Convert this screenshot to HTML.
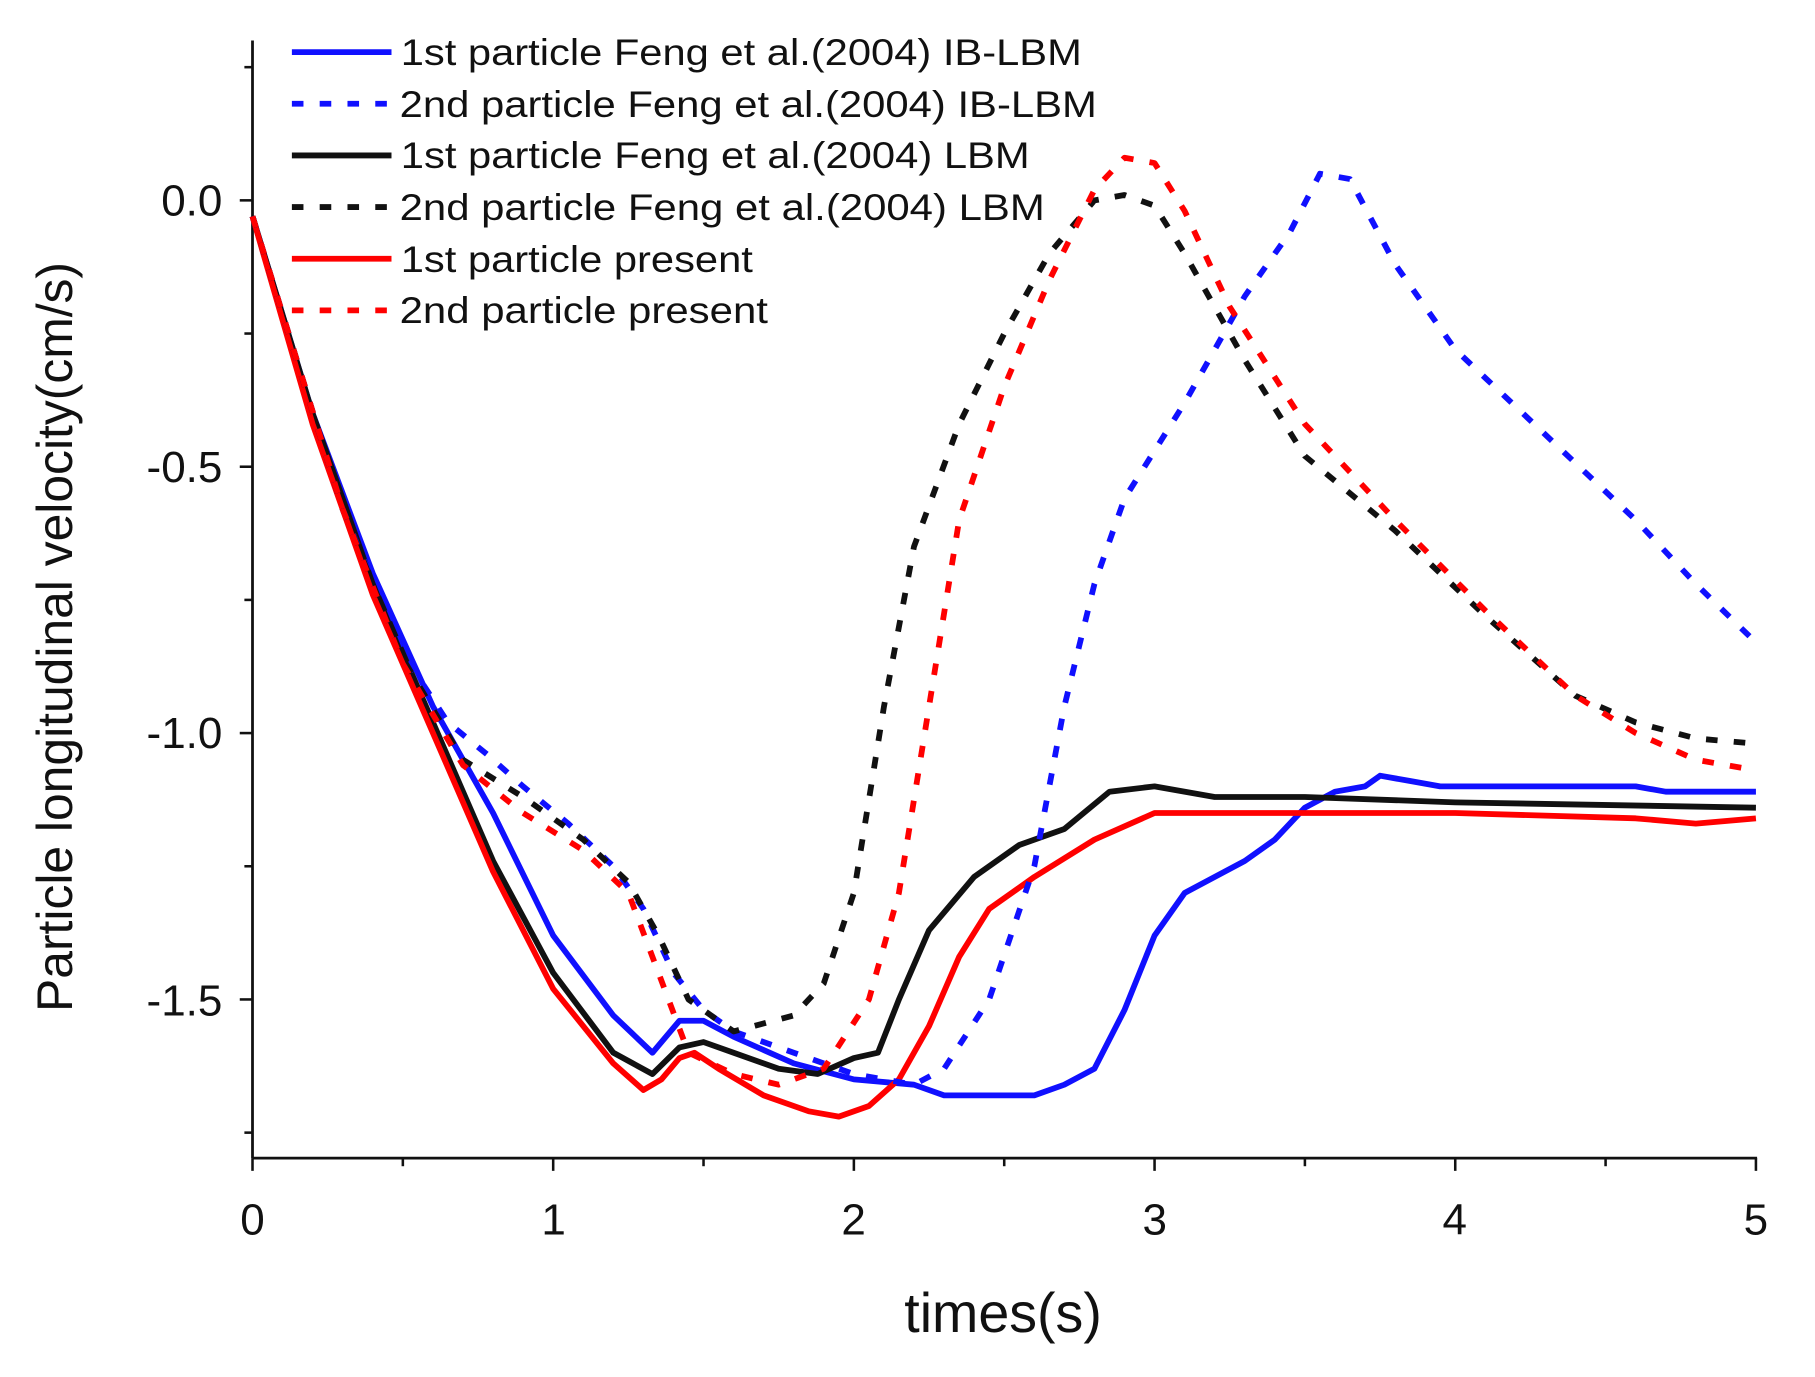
<!DOCTYPE html>
<html><head><meta charset="utf-8"><style>
html,body{margin:0;padding:0;background:#fff;}
svg{display:block}
text{font-family:"Liberation Sans",sans-serif;fill:#111}
</style></head><body>
<svg id="s" width="1815" height="1377" viewBox="0 0 1567 1189" preserveAspectRatio="none">
<g id="axes" stroke="#111" stroke-width="2.4" fill="none">
<line x1="218" y1="35" x2="218" y2="1000"/>
<line x1="218" y1="1000" x2="1517" y2="1000"/>
</g>
<g id="ticks" stroke="#111" stroke-width="2.2"></g>
<g font-size="38">
<text x="192" y="186" text-anchor="end">0.0</text>
<text x="192" y="416" text-anchor="end">-0.5</text>
<text x="192" y="646" text-anchor="end">-1.0</text>
<text x="192" y="877" text-anchor="end">-1.5</text>
<text x="218" y="1066" text-anchor="middle">0</text>
<text x="478" y="1066" text-anchor="middle">1</text>
<text x="737" y="1066" text-anchor="middle">2</text>
<text x="997" y="1066" text-anchor="middle">3</text>
<text x="1256" y="1066" text-anchor="middle">4</text>
<text x="1516" y="1066" text-anchor="middle">5</text>
</g>
<text x="866" y="1150" font-size="48" text-anchor="middle">times(s)</text>
<text transform="translate(62,550) rotate(-90)" font-size="43" text-anchor="middle">Particle longitudinal velocity(cm/s)</text>
<g id="series" fill="none" stroke-width="5" stroke-linejoin="round"></g>
<g id="legend" stroke-width="5"></g>
<g font-size="32">
<text x="346" y="56" textLength="588" lengthAdjust="spacingAndGlyphs">1st particle Feng et al.(2004) IB-LBM</text>
<text x="345" y="101" textLength="602" lengthAdjust="spacingAndGlyphs">2nd particle Feng et al.(2004) IB-LBM</text>
<text x="346" y="145" textLength="543" lengthAdjust="spacingAndGlyphs">1st particle Feng et al.(2004) LBM</text>
<text x="345" y="190" textLength="557" lengthAdjust="spacingAndGlyphs">2nd particle Feng et al.(2004) LBM</text>
<text x="346" y="235" textLength="304" lengthAdjust="spacingAndGlyphs">1st particle present</text>
<text x="345" y="279" textLength="318" lengthAdjust="spacingAndGlyphs">2nd particle present</text>
</g>
</svg>
<script>
var NS="http://www.w3.org/2000/svg";
function X(t){return 218+259.6*t} function Y(v){return 173-460*v}
function el(p,tag,a){var e=document.createElementNS(NS,tag);for(var k in a)e.setAttribute(k,a[k]);p.appendChild(e);return e;}
var tk=document.getElementById('ticks');
for(var i=0;i<=10;i++){var x=X(i*0.5);el(tk,'line',{x1:x,y1:1000,x2:x,y2:1000+(i%2?7:11)});}
for(var v=0.25;v>=-1.76;v-=0.25){var y=Y(v);var maj=Math.abs(v*2-Math.round(v*2))<1e-6;el(tk,'line',{x1:218,y1:y,x2:218-(maj?11:7),y2:y});}
var S=[
['#1010ff',0,[[0,-0.03],[0.2,-0.4],[0.4,-0.7],[0.6,-0.95],[0.8,-1.15],[1.0,-1.38],[1.2,-1.53],[1.33,-1.6],[1.42,-1.54],[1.5,-1.54],[1.6,-1.57],[1.8,-1.62],[2.0,-1.65],[2.2,-1.66],[2.3,-1.68],[2.6,-1.68],[2.7,-1.66],[2.8,-1.63],[2.9,-1.52],[3.0,-1.38],[3.1,-1.3],[3.3,-1.24],[3.4,-1.2],[3.5,-1.14],[3.6,-1.11],[3.7,-1.1],[3.75,-1.08],[3.85,-1.09],[3.95,-1.1],[4.6,-1.1],[4.7,-1.11],[5.0,-1.11]]],
['#111',0,[[0,-0.03],[0.2,-0.4],[0.4,-0.72],[0.6,-0.98],[0.8,-1.24],[1.0,-1.45],[1.2,-1.6],[1.33,-1.64],[1.42,-1.59],[1.5,-1.58],[1.6,-1.6],[1.75,-1.63],[1.88,-1.64],[2.0,-1.61],[2.08,-1.6],[2.15,-1.5],[2.25,-1.37],[2.4,-1.27],[2.55,-1.21],[2.7,-1.18],[2.85,-1.11],[3.0,-1.1],[3.2,-1.12],[3.5,-1.12],[4.0,-1.13],[5.0,-1.14]]],
['#f00',0,[[0,-0.03],[0.2,-0.42],[0.4,-0.74],[0.6,-1.0],[0.8,-1.26],[1.0,-1.48],[1.2,-1.62],[1.3,-1.67],[1.36,-1.65],[1.42,-1.61],[1.47,-1.6],[1.55,-1.63],[1.7,-1.68],[1.85,-1.71],[1.95,-1.72],[2.05,-1.7],[2.15,-1.65],[2.25,-1.55],[2.35,-1.42],[2.45,-1.33],[2.6,-1.27],[2.8,-1.2],[3.0,-1.15],[3.5,-1.15],[4.0,-1.15],[4.6,-1.16],[4.8,-1.17],[5.0,-1.16]]],
['#1010ff',1,[[0,-0.03],[0.3,-0.58],[0.5,-0.85],[0.65,-0.98],[0.78,-1.04],[0.9,-1.1],[1.05,-1.17],[1.2,-1.25],[1.3,-1.33],[1.4,-1.45],[1.5,-1.52],[1.6,-1.56],[1.8,-1.6],[2.0,-1.64],[2.2,-1.66],[2.3,-1.63],[2.45,-1.5],[2.6,-1.25],[2.7,-0.95],[2.8,-0.72],[2.9,-0.56],[3.1,-0.38],[3.3,-0.18],[3.45,-0.06],[3.55,0.05],[3.65,0.04],[3.8,-0.12],[4.0,-0.28],[4.3,-0.44],[4.6,-0.6],[4.8,-0.72],[5.0,-0.83]]],
['#111',1,[[0,-0.03],[0.3,-0.58],[0.5,-0.86],[0.7,-1.05],[0.9,-1.12],[1.1,-1.2],[1.25,-1.28],[1.35,-1.38],[1.45,-1.5],[1.6,-1.56],[1.8,-1.53],[1.9,-1.47],[2.0,-1.3],[2.1,-0.95],[2.2,-0.65],[2.35,-0.42],[2.5,-0.25],[2.65,-0.1],[2.8,0.0],[2.9,0.01],[3.0,-0.01],[3.1,-0.1],[3.3,-0.3],[3.5,-0.48],[3.8,-0.62],[4.1,-0.78],[4.4,-0.93],[4.6,-0.98],[4.8,-1.01],[5.0,-1.02]]],
['#f00',1,[[0,-0.03],[0.3,-0.58],[0.5,-0.87],[0.7,-1.06],[0.9,-1.15],[1.1,-1.22],[1.25,-1.3],[1.35,-1.45],[1.45,-1.6],[1.6,-1.64],[1.75,-1.66],[1.9,-1.63],[2.05,-1.5],[2.15,-1.3],[2.25,-0.95],[2.35,-0.6],[2.5,-0.35],[2.65,-0.15],[2.8,0.02],[2.9,0.08],[3.0,0.07],[3.1,-0.02],[3.25,-0.2],[3.5,-0.42],[3.8,-0.6],[4.1,-0.77],[4.4,-0.93],[4.6,-1.0],[4.8,-1.05],[5.0,-1.07]]]];
var g=document.getElementById('series');
S.forEach(function(s){var d=s[2].map(function(p,i){return (i?'L':'M')+X(p[0]).toFixed(1)+' '+Y(p[1]).toFixed(1)}).join('');
var a={d:d,stroke:s[0]};if(s[1])a['stroke-dasharray']='10 14';el(g,'path',a);});
var lg=document.getElementById('legend');
var L=[['#1010ff',0],['#1010ff',1],['#111',0],['#111',1],['#f00',0],['#f00',1]];
L.forEach(function(l,i){var y=45+i*44.6;var a={x1:252,y1:y,x2:338,y2:y,stroke:l[0]};if(l[1])a['stroke-dasharray']='10 14';el(lg,'line',a);});
</script>
</body></html>
